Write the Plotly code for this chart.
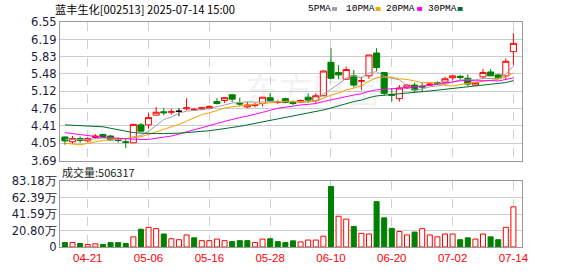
import plotly.graph_objects as go

# ---------------- data ----------------
dates = ["04-16","04-17","04-18","04-21","04-22","04-23","04-24","04-25","04-28","04-29",
         "04-30","05-06","05-07","05-08","05-09","05-12","05-13","05-14","05-15","05-16",
         "05-19","05-20","05-21","05-22","05-23","05-26","05-27","05-28","05-29","05-30",
         "06-03","06-04","06-05","06-06","06-09","06-10","06-11","06-12","06-13","06-16",
         "06-17","06-18","06-19","06-20","06-23","06-24","06-25","06-26","06-27","06-30",
         "07-01","07-02","07-03","07-04","07-07","07-08","07-09","07-10","07-11","07-14"]

opens = [4.18,4.08,4.15,4.10,4.17,4.23,4.20,4.12,4.08,4.06,
         4.43,4.43,4.63,4.70,4.69,4.71,4.76,4.74,4.76,4.77,
         4.91,4.93,5.05,4.87,4.80,4.83,4.87,4.99,4.89,4.97,
         4.89,4.90,5.00,4.93,5.03,5.72,5.51,5.37,5.44,5.33,
         5.44,5.91,5.51,5.06,4.97,5.19,5.25,5.23,5.25,5.30,
         5.31,5.40,5.43,5.39,5.25,5.42,5.52,5.46,5.44,5.94]
highs = [4.19,4.20,4.19,4.17,4.24,4.25,4.22,4.17,4.14,4.45,
         4.47,4.68,4.80,4.78,4.76,4.77,4.98,4.78,4.80,4.83,
         4.98,5.00,5.07,4.99,4.91,4.89,5.00,5.09,4.94,4.99,
         4.93,4.95,5.08,5.08,5.55,6.01,5.66,5.63,5.56,5.42,
         5.87,6.01,5.51,5.19,5.25,5.27,5.30,5.30,5.30,5.33,
         5.42,5.46,5.46,5.47,5.31,5.58,5.58,5.48,5.80,6.32]
lows = [4.02,4.04,4.06,4.07,4.14,4.17,4.10,4.06,3.95,4.06,
        4.28,4.35,4.63,4.63,4.64,4.61,4.73,4.72,4.73,4.75,
        4.85,4.88,4.90,4.81,4.78,4.79,4.81,4.90,4.86,4.88,
        4.84,4.88,4.88,4.88,5.02,5.37,5.37,5.36,5.20,5.15,
        5.38,5.54,5.03,4.91,4.91,5.17,5.10,5.12,5.23,5.25,
        5.28,5.35,5.35,5.23,5.24,5.39,5.44,5.37,5.35,5.66]
closes = [4.10,4.15,4.11,4.15,4.20,4.19,4.12,4.11,4.07,4.44,
          4.30,4.58,4.69,4.68,4.70,4.71,4.78,4.75,4.78,4.81,
          4.87,4.99,4.96,4.86,4.84,4.85,5.00,4.93,4.90,4.89,
          4.87,4.93,4.94,5.03,5.54,5.39,5.46,5.57,5.25,5.34,
          5.87,5.61,5.08,5.04,5.19,5.25,5.15,5.21,5.27,5.28,
          5.38,5.44,5.41,5.27,5.30,5.51,5.44,5.40,5.74,6.11]
volumes = [56000,56000,44000,32000,40000,32000,56000,56000,44000,128000,
           224000,248000,232000,164000,104000,92000,152000,116000,80000,80000,
           100000,80000,68000,80000,80000,56000,100000,104000,68000,56000,
           78000,64000,88000,88000,136000,764000,388000,352000,260000,172000,
           164000,572000,368000,236000,196000,152000,188000,232000,152000,128000,
           164000,164000,92000,116000,100000,164000,128000,92000,248000,506317]

# moving-average values for days before a full window exists
ma5_head = [4.13,4.13,4.12,4.13]
ma10_head = [4.05,4.03,4.02,4.05,4.08,4.11,4.12,4.13,4.14]
ma20_head = [4.27,4.25,4.22,4.20,4.18,4.17,4.16,4.15,4.14,4.13,
             4.13,4.13,4.15,4.17,4.20,4.24,4.29,4.33,4.37]
ma30_head = [4.43,4.42,4.41,4.40,4.40,4.39,4.36,4.33,4.29,4.27,
             4.26,4.25,4.25,4.25,4.25,4.26,4.27,4.28,4.29,4.31,
             4.33,4.35,4.38,4.40,4.43,4.46,4.49,4.52,4.55]

price_ticks = [3.69,4.05,4.41,4.76,5.12,5.48,5.83,6.19,6.55]
price_tick_text = ["3.69","4.05","4.41","4.76","5.12","5.48","5.83","6.19","6.55"]
vol_ticks = [0,208000,415900,623900,831800]
vol_tick_text = ["0","20.80万","41.59万","62.39万","83.18万"]
date_tick_labels = ["04-21","05-06","05-16","05-28","06-10","06-20","07-02","07-14"]

title_text = "蓝丰生化[002513] 2025-07-14 15:00"
ma_names = ["5PMA","10PMA","20PMA","30PMA"]
ma_colors = ["#a0a0a0","#f5a300","#ff00ff","#006a30"]

RED = "#ff0000"
GREEN = "#008000"

# ---------------- helpers ----------------
def moving_average(n, head):
    out = list(head)
    for i in range(n - 1, len(closes)):
        out.append(sum(closes[i - n + 1:i + 1]) / n)
    return out

x = list(range(len(dates)))
mas = [moving_average(5, ma5_head), moving_average(10, ma10_head),
       moving_average(20, ma20_head), moving_average(30, ma30_head)]

fig = go.Figure()

# candles (non-doji)
idx_nd = [i for i in x if closes[i] != opens[i]]
idx_dj = [i for i in x if closes[i] == opens[i]]
fig.add_trace(go.Candlestick(
    x=idx_nd, open=[opens[i] for i in idx_nd], high=[highs[i] for i in idx_nd],
    low=[lows[i] for i in idx_nd], close=[closes[i] for i in idx_nd],
    increasing=dict(line=dict(color=RED, width=1), fillcolor="white"),
    decreasing=dict(line=dict(color=GREEN, width=1), fillcolor=GREEN),
    whiskerwidth=0, hoverinfo="skip", xaxis="x", yaxis="y"))
if idx_dj:
    fig.add_trace(go.Candlestick(
        x=idx_dj, open=[opens[i] for i in idx_dj], high=[highs[i] for i in idx_dj],
        low=[lows[i] for i in idx_dj], close=[closes[i] for i in idx_dj],
        increasing=dict(line=dict(color="black", width=1), fillcolor="black"),
        decreasing=dict(line=dict(color="black", width=1), fillcolor="black"),
        whiskerwidth=0, hoverinfo="skip", xaxis="x", yaxis="y"))

# moving averages
for vals, col in zip(mas, ma_colors):
    fig.add_trace(go.Scatter(x=x, y=vals, mode="lines", line=dict(color=col, width=1),
                             hoverinfo="skip", xaxis="x", yaxis="y"))

# volume
up_vol = []
for i in x:
    ref = closes[i - 1] if i > 0 else opens[i]
    up_vol.append(closes[i] >= ref)
iu = [i for i in x if up_vol[i]]
idn = [i for i in x if not up_vol[i]]
fig.add_trace(go.Bar(x=iu, y=[volumes[i] for i in iu], width=0.66,
                     marker=dict(color="white", line=dict(color=RED, width=1)),
                     hoverinfo="skip", xaxis="x2", yaxis="y2"))
fig.add_trace(go.Bar(x=idn, y=[volumes[i] for i in idn], width=0.66,
                     marker=dict(color=GREEN, line=dict(color=GREEN, width=1)),
                     hoverinfo="skip", xaxis="x2", yaxis="y2"))

# ---------------- layout ----------------
W, H = 578, 276
L, R, T, B = 55, 56, 22, 21
PW, PH = W - L - R, H - T - B

def px_x(p):
    return (p - L) / PW

def px_y(p):
    return (H - B - p) / PH

date_tick_idx = [dates.index(d) for d in date_tick_labels]
xrange = [-0.65, len(dates) + 0.13]
tickfont = dict(family="DejaVu Sans", size=11.5, color="#1c1c3a")

common_x = dict(range=xrange, tickvals=date_tick_idx, showgrid=True, gridcolor="#d0d0d0",
                griddash="dash", gridwidth=1, showline=True, mirror=True, linecolor="#999999",
                linewidth=1, zeroline=False, ticks="", fixedrange=True)

fig.update_layout(
    width=W, height=H, margin=dict(l=L, r=R, t=T, b=B),
    paper_bgcolor="white", plot_bgcolor="white", showlegend=False,
    boxgap=0.2, boxgroupgap=0, barmode="overlay",
    xaxis=dict(domain=[0, 1], anchor="y", showticklabels=False,
               rangeslider=dict(visible=False), **common_x),
    yaxis=dict(domain=[px_y(165.7), 1], range=[price_ticks[0], price_ticks[-1]],
               tickvals=price_ticks, ticktext=price_tick_text, tickfont=tickfont,
               showgrid=True, gridcolor="#cccccc", gridwidth=1, showline=True, mirror=True,
               linecolor="#999999", zeroline=False, ticks="", fixedrange=True),
    xaxis2=dict(domain=[0, 1], anchor="y2", ticktext=date_tick_labels,
                tickfont=dict(family="Liberation Sans", size=11.5, color=RED), **common_x),
    yaxis2=dict(domain=[0, px_y(186.7)], range=[vol_ticks[0], vol_ticks[-1]],
                tickvals=vol_ticks, ticktext=vol_tick_text, tickfont=tickfont,
                showgrid=True, gridcolor="#cccccc", gridwidth=1, showline=True, mirror=True,
                linecolor="#999999", zeroline=False, ticks="", fixedrange=True),
)

anns = []
anns.append(dict(text=title_text, x=px_x(48), y=px_y(8.5), xref="paper", yref="paper",
                 xanchor="left", yanchor="middle", showarrow=False,
                 font=dict(family="Noto Sans CJK SC", size=11.2, color="black")))
anns.append(dict(text="成交量:" + str(volumes[-1]), x=px_x(55), y=px_y(177), xref="paper",
                 yref="paper", xanchor="left", yanchor="middle", showarrow=False,
                 font=dict(family="Noto Sans CJK SC", size=11, color="#222222")))
anns.append(dict(text="东方财富", x=px_x(311), y=px_y(91), xref="paper", yref="paper",
                 xanchor="center", yanchor="middle", showarrow=False,
                 font=dict(family="Noto Sans CJK SC", size=34, color="rgba(120,120,120,0.10)")))

legend_x = [306, 344, 385, 427]
square_x = [330, 374, 416, 457]
shapes = []
for name, col, lx, sx in zip(ma_names, ma_colors, legend_x, square_x):
    anns.append(dict(text=name, x=px_x(lx - 2), y=px_y(8.5), xref="paper", yref="paper",
                     xanchor="left", yanchor="middle", showarrow=False,
                     font=dict(family="Liberation Mono", size=9.5, color="black")))
    shapes.append(dict(type="rect", xref="paper", yref="paper", x0=px_x(sx), x1=px_x(sx + 5),
                       y0=px_y(10.5), y1=px_y(6.5), fillcolor=col, line=dict(width=0),
                       layer="above"))

fig.update_layout(annotations=anns, shapes=shapes)
fig.write_html("out.html")
